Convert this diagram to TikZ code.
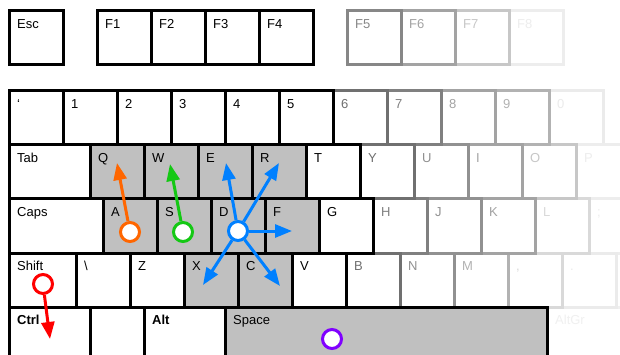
\documentclass[tikz,border=0pt]{standalone}
\usepackage{fontspec}
\setmainfont{Liberation Sans}
\usetikzlibrary{arrows.meta}
\definecolor{kgray}{RGB}{192,192,192}
\definecolor{corange}{RGB}{255,102,0}
\definecolor{cgreen}{RGB}{20,200,20}
\definecolor{cblue}{RGB}{0,128,255}
\definecolor{cred}{RGB}{255,0,0}
\definecolor{cpurple}{RGB}{128,0,255}
\tikzset{
  keyb/.style={rectangle, line width=3pt, inner sep=0pt, outer sep=0pt,
    minimum height=54pt, anchor=north west},
  klab/.style={anchor=base west, inner sep=0pt, font=\fontsize{13}{15}\selectfont},
  dot/.style={circle, line width=3pt, fill=white, minimum size=19pt, inner sep=0pt},
  mov/.style={line width=3pt, -{Triangle[length=17pt,width=13pt]}}
}
% name, x, y, width, label, darkness, fill
\newcommand\kk[7]{%
  \node[keyb, draw=black!#6, fill=#7, minimum width=#4pt] (#1) at (#2,#3) {};
  \node[klab, text=black!#6] (#1-t) at ({#2+8},{#3+17.5}) {#5};}
\begin{document}
\begin{tikzpicture}[x=1pt,y=-1pt]
\useasboundingbox (0,0) rectangle (620,355);
\clip (0,0) rectangle (620,355);
\fill[white] (0,0) rectangle (620,355);
% faded keys, lightest first
\kk{kslash}{616}{253}{54}{}{4}{white}
\kk{kaltgr}{547}{307}{81}{AltGr}{6}{white}
\kk{kF8}{509}{11}{54}{F8}{7}{white}
\kk{k0}{549}{91}{54}{0}{8}{white}
\kk{kP}{576}{145}{54}{P}{7}{white}
\kk{ksemi}{589}{199}{54}{;}{7}{white}
\kk{kdot}{562}{253}{54}{.}{8}{white}
\kk{kL}{535}{199}{54}{L}{15}{white}
\kk{kcomma}{508}{253}{54}{,}{15}{white}
\kk{kF7}{455}{11}{54}{F7}{22}{white}
\kk{kO}{522}{145}{54}{O}{22}{white}
\kk{k9}{495}{91}{54}{9}{30}{white}
\kk{kM}{454}{253}{54}{M}{30}{white}
\kk{kF6}{401}{11}{54}{F6}{36}{white}
\kk{k8}{441}{91}{54}{8}{36}{white}
\kk{kI}{468}{145}{54}{I}{36}{white}
\kk{kK}{481}{199}{54}{K}{36}{white}
\kk{kU}{414}{145}{54}{U}{43}{white}
\kk{kJ}{427}{199}{54}{J}{43}{white}
\kk{kN}{400}{253}{54}{N}{43}{white}
\kk{kF5}{347}{11}{54}{F5}{47}{white}
\kk{k7}{387}{91}{54}{7}{50}{white}
\kk{kH}{373}{199}{54}{H}{50}{white}
\kk{k6}{333}{91}{54}{6}{56}{white}
\kk{kY}{360}{145}{54}{Y}{56}{white}
\kk{kB}{346}{253}{54}{B}{56}{white}
% black keys
\kk{kesc}{9}{11}{54}{Esc}{100}{white}
\kk{kF1}{97}{11}{54}{F1}{100}{white}
\kk{kF2}{151}{11}{54}{F2}{100}{white}
\kk{kF3}{205}{11}{54}{F3}{100}{white}
\kk{kF4}{259}{11}{54}{F4}{100}{white}
\kk{kgrave}{9}{91}{54}{‘}{100}{white}
\kk{k1}{63}{91}{54}{1}{100}{white}
\kk{k2}{117}{91}{54}{2}{100}{white}
\kk{k3}{171}{91}{54}{3}{100}{white}
\kk{k4}{225}{91}{54}{4}{100}{white}
\kk{k5}{279}{91}{54}{5}{100}{white}
\kk{ktab}{9}{145}{81}{Tab}{100}{white}
\kk{kQ}{90}{145}{54}{Q}{100}{kgray}
\kk{kW}{144}{145}{54}{W}{100}{kgray}
\kk{kE}{198}{145}{54}{E}{100}{kgray}
\kk{kR}{252}{145}{54}{R}{100}{kgray}
\kk{kT}{306}{145}{54}{T}{100}{white}
\kk{kcaps}{9}{199}{94}{Caps}{100}{white}
\kk{kA}{103}{199}{54}{A}{100}{kgray}
\kk{kS}{157}{199}{54}{S}{100}{kgray}
\kk{kD}{211}{199}{54}{D}{100}{kgray}
\kk{kF}{265}{199}{54}{F}{100}{kgray}
\kk{kG}{319}{199}{54}{G}{100}{white}
\kk{kshift}{9}{253}{67}{Shift}{100}{white}
\kk{kbslash}{76}{253}{54}{\textbackslash}{100}{white}
\kk{kZ}{130}{253}{54}{Z}{100}{white}
\kk{kX}{184}{253}{54}{X}{100}{kgray}
\kk{kC}{238}{253}{54}{C}{100}{kgray}
\kk{kV}{292}{253}{54}{V}{100}{white}
\kk{kctrl}{9}{307}{81}{\textbf{Ctrl}}{100}{white}
\kk{kblank}{90}{307}{54}{}{100}{white}
\kk{kalt}{144}{307}{81}{\textbf{Alt}}{100}{white}
\kk{kspace}{225}{307}{322}{Space}{100}{kgray}
% finger positions
\node[dot, draw=corange] (ca) at (130,232) {};
\node[dot, draw=cgreen] (cs) at (183,232) {};
\node[dot, draw=cblue] (cd) at (238,231) {};
\node[dot, draw=cred] (csh) at (43,284) {};
\node[dot, draw=cpurple] (csp) at (332,339) {};
\coordinate (tq) at (117,163);
\coordinate (tw) at (170,164);
\coordinate (te) at (226,163);
\coordinate (tr) at (279,163);
\coordinate (tf) at (292,231);
\coordinate (tx) at (203,285);
\coordinate (tc) at (280,286);
\coordinate (tctrl) at (50,339);
\draw[mov, corange] (ca) -- (tq);
\draw[mov, cgreen] (cs) -- (tw);
\draw[mov, cblue] (cd) -- (te);
\draw[mov, cblue] (cd) -- (tr);
\draw[mov, cblue] (cd) -- (tf);
\draw[mov, cblue] (cd) -- (tx);
\draw[mov, cblue] (cd) -- (tc);
\draw[mov, cred] (csh) -- (tctrl);
\end{tikzpicture}
\end{document}
